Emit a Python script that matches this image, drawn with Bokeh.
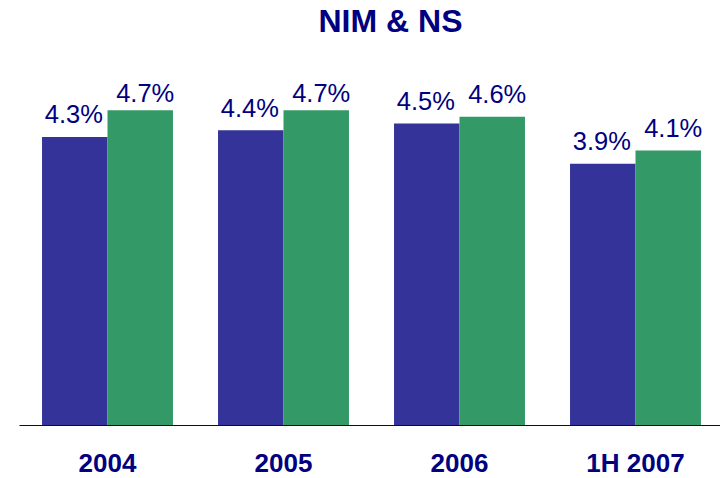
import numpy as np
from bokeh.plotting import figure
from bokeh.models import ColumnDataSource, FixedTicker, Label, Range1d
from bokeh.core.properties import value
from bokeh.embed import file_html
from bokeh.resources import INLINE

categories = ["2004", "2005", "2006", "1H 2007"]
nim = [4.3, 4.4, 4.5, 3.9]
ns = [4.7, 4.7, 4.6, 4.1]
title_text = "NIM & NS"

BLUE = "#333399"
GREEN = "#339966"
NAVY = "#000080"
FONT = "Liberation Sans"

idx = np.arange(len(categories))
bw = 0.372
nim_x = idx - bw / 2
ns_x = idx + bw / 2

p = figure(frame_width=701, frame_height=417, output_backend="svg",
           toolbar_location=None, x_range=Range1d(-0.5, 3.483),
           y_range=Range1d(0, 6.215), min_border_left=19, min_border_right=0,
           min_border_top=8, min_border_bottom=0, y_axis_location=None)
p.outline_line_color = None
p.xgrid.visible = False
p.ygrid.visible = False
p.background_fill_color = "white"
p.border_fill_color = "white"

p.vbar(x=nim_x, top=nim, bottom=0, width=bw, fill_color=BLUE, line_color=None)
p.vbar(x=ns_x, top=ns, bottom=0, width=bw, fill_color=GREEN, line_color=None)

nim_src = ColumnDataSource(dict(x=nim_x, y=np.minimum(nim, 4.62),
                                t=[f"{v:.1f}%" for v in nim]))
ns_src = ColumnDataSource(dict(x=ns_x, y=np.minimum(ns, 4.62),
                               t=[f"{v:.1f}%" for v in ns]))
for src, xo in ((nim_src, -1), (ns_src, 5)):
    p.text(x="x", y="y", text="t", source=src, text_align="center",
           text_baseline="alphabetic", y_offset=-22.5, x_offset=xo,
           text_font=value(FONT), text_font_size="25.5px", text_color=NAVY)

ax = p.xaxis[0]
ax.ticker = FixedTicker(ticks=list(idx))
ax.major_label_overrides = {int(i): c for i, c in zip(idx, categories)}
ax.major_tick_in = 0
ax.major_tick_out = 0
ax.minor_tick_in = 0
ax.minor_tick_out = 0
ax.major_label_standoff = 22
ax.major_label_text_font = FONT
ax.major_label_text_font_size = "26px"
ax.major_label_text_font_style = "bold"
ax.major_label_text_color = NAVY
ax.axis_line_color = NAVY
ax.axis_line_width = 1

p.add_layout(Label(x=371, y=404.7, x_units="screen", y_units="screen",
                   text=title_text, text_align="center", text_baseline="alphabetic",
                   text_font=FONT, text_font_size="32px", text_font_style="bold",
                   text_color=NAVY))

open("out.html", "w").write(file_html(p, INLINE))
